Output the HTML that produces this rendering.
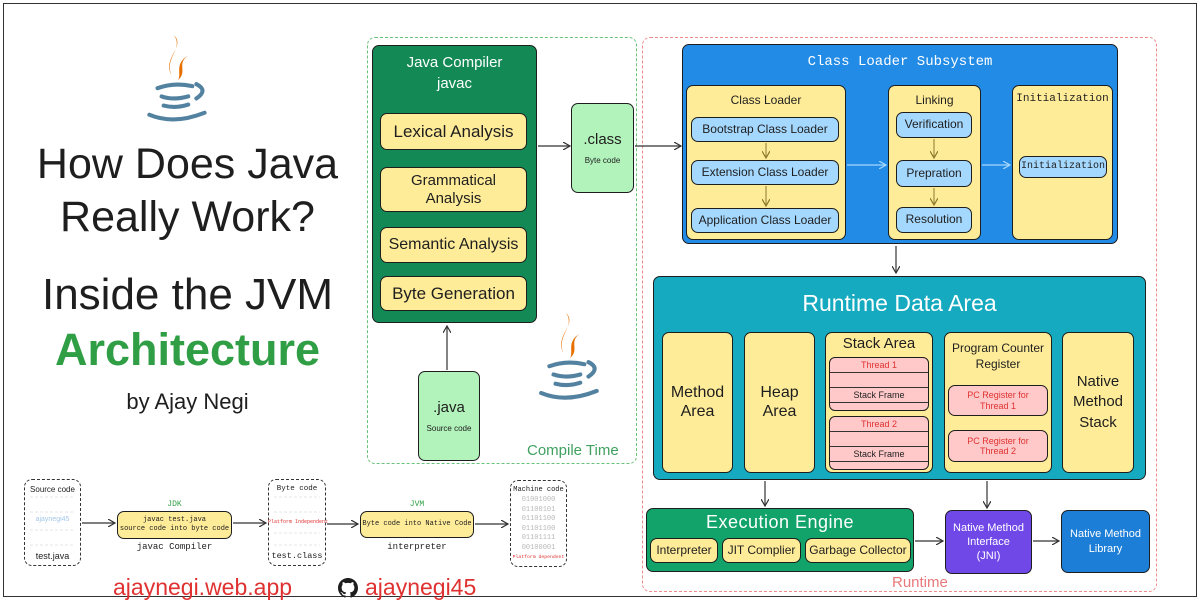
<!DOCTYPE html>
<html><head><meta charset="utf-8"><style>
*{margin:0;padding:0;box-sizing:border-box}
body{width:1200px;height:600px;background:#fff;position:relative;overflow:hidden;font-family:"Liberation Sans",sans-serif;color:#1e1e1e}
.a{position:absolute}
.b{position:absolute;border:1.5px solid #1e1e1e;border-radius:7px;display:flex;align-items:center;justify-content:center;text-align:center;line-height:1.15}
.y{background:#ffec99}
.lb{background:#a5d8ff}
.pk{background:#ffc9c9;color:#e03131}
.t{position:absolute;white-space:nowrap;text-align:center}
.mono{font-family:"Liberation Mono",monospace}
.nw{white-space:nowrap}
svg.ov{position:absolute;left:0;top:0}
</style></head><body>
<div class="a" style="left:3px;top:3px;width:1194px;height:594px;border:1.5px solid #333"></div>

<!-- logos -->
<svg class="a" style="left:143px;top:33px" width="72" height="92" viewBox="0 0 70 90">
<path d="M30 2 C42 14 18 24 28 42 C20 24 40 16 30 2Z" fill="#e76f00"/>
<path d="M44 22 C30 30 38 40 34 46 C44 38 32 30 44 22Z" fill="#e76f00"/>
<g fill="none" stroke="#5382a1" stroke-width="4" stroke-linecap="round">
<path d="M14 54 Q30 48 48 52"/><path d="M52 50 Q64 56 52 64"/>
<path d="M18 62 Q30 66 44 62"/><path d="M20 71 Q32 74 44 70"/>
<path d="M6 80 Q30 90 60 78"/></g></svg>
<svg class="a" style="left:535px;top:308px" width="72" height="98" viewBox="0 0 70 90">
<path d="M30 2 C42 14 18 24 28 42 C20 24 40 16 30 2Z" fill="#e76f00"/>
<path d="M44 22 C30 30 38 40 34 46 C44 38 32 30 44 22Z" fill="#e76f00"/>
<g fill="none" stroke="#5382a1" stroke-width="4" stroke-linecap="round">
<path d="M14 54 Q30 48 48 52"/><path d="M52 50 Q64 56 52 64"/>
<path d="M18 62 Q30 66 44 62"/><path d="M20 71 Q32 74 44 70"/>
<path d="M6 80 Q30 90 60 78"/></g></svg>

<!-- title -->
<div class="t" style="left:0;width:375px;top:140px;font-size:43px">How Does Java</div>
<div class="t" style="left:0;width:375px;top:193px;font-size:43px">Really Work?</div>
<div class="t" style="left:0;width:375px;top:270px;font-size:44px">Inside the JVM</div>
<div class="t" style="left:0;width:375px;top:324px;font-size:45px;color:#2f9e44;font-weight:bold">Architecture</div>
<div class="t" style="left:0;width:375px;top:389px;font-size:22px">by Ajay Negi</div>

<!-- dashed areas -->
<div class="a" style="left:367px;top:37px;width:270px;height:427px;border:1px dashed #69c27a;border-radius:8px"></div>
<div class="t" style="left:527px;top:442px;font-size:15px;color:#40a060">Compile Time</div>
<div class="a" style="left:642px;top:37px;width:515px;height:555px;border:1px dashed #f08a8a;border-radius:8px"></div>
<div class="t" style="left:892px;top:574px;font-size:15px;color:#e8787a">Runtime</div>

<!-- compiler -->
<div class="a" style="left:372px;top:45px;width:165px;height:278px;background:#138a55;border:1.5px solid #1e1e1e;border-radius:7px"></div>
<div class="t" style="left:372px;width:165px;top:52px;font-size:15px;color:#fff;line-height:1.4">Java Compiler<br>javac</div>
<div class="b y" style="left:380px;top:113px;width:147px;height:37px;font-size:17px">Lexical Analysis</div>
<div class="b y" style="left:380px;top:167px;width:147px;height:45px;font-size:15px">Grammatical<br>Analysis</div>
<div class="b y" style="left:380px;top:227px;width:147px;height:36px;font-size:16px">Semantic Analysis</div>
<div class="b y" style="left:380px;top:276px;width:147px;height:35px;font-size:17px">Byte Generation</div>
<div class="b" style="left:571px;top:103px;width:63px;height:90px;background:#b2f2bb;flex-direction:column;font-size:15px">.class<span style="font-size:8px;margin-top:8px">Byte code</span></div>
<div class="b" style="left:418px;top:371px;width:62px;height:90px;background:#b2f2bb;flex-direction:column;font-size:15px">.java<span style="font-size:8px;margin-top:8px">Source code</span></div>

<!-- class loader subsystem -->
<div class="a" style="left:682px;top:44px;width:436px;height:200px;background:#228be6;border:1.5px solid #1e1e1e;border-radius:7px"></div>
<div class="t mono" style="left:682px;width:436px;top:54px;font-size:14px;color:#fff">Class Loader Subsystem</div>
<div class="a y" style="left:686px;top:85px;width:160px;height:155px;border:1.5px solid #1e1e1e;border-radius:7px"></div>
<div class="t" style="left:686px;width:160px;top:93px;font-size:12px">Class Loader</div>
<div class="a y" style="left:888px;top:85px;width:93px;height:155px;border:1.5px solid #1e1e1e;border-radius:7px"></div>
<div class="t" style="left:888px;width:93px;top:93px;font-size:12px">Linking</div>
<div class="a y" style="left:1012px;top:85px;width:101px;height:155px;border:1.5px solid #1e1e1e;border-radius:7px"></div>
<div class="t mono" style="left:1012px;width:101px;top:93px;font-size:11px">Initialization</div>
<div class="b lb" style="left:691px;top:117px;width:148px;height:25px;font-size:12px">Bootstrap Class Loader</div>
<div class="b lb" style="left:691px;top:160px;width:148px;height:25px;font-size:12px">Extension Class Loader</div>
<div class="b lb" style="left:691px;top:208px;width:148px;height:25px;font-size:12px">Application Class Loader</div>
<div class="b lb" style="left:896px;top:112px;width:76px;height:26px;font-size:12px">Verification</div>
<div class="b lb" style="left:896px;top:160px;width:76px;height:27px;font-size:12px">Prepration</div>
<div class="b lb" style="left:896px;top:207px;width:76px;height:26px;font-size:12px">Resolution</div>
<div class="b lb mono" style="left:1019px;top:156px;width:88px;height:22px;font-size:10px">Initialization</div>

<!-- runtime data area -->
<div class="a" style="left:653px;top:276px;width:493px;height:204px;background:#15aabf;border:1.5px solid #1e1e1e;border-radius:7px"></div>
<div class="t" style="left:653px;width:493px;top:290px;font-size:23px;color:#fff">Runtime Data Area</div>
<div class="b y" style="left:662px;top:332px;width:71px;height:141px;font-size:16px">Method<br>Area</div>
<div class="b y" style="left:744px;top:332px;width:71px;height:141px;font-size:16px">Heap<br>Area</div>
<div class="a y" style="left:825px;top:332px;width:108px;height:141px;border:1.5px solid #1e1e1e;border-radius:7px"></div>
<div class="t" style="left:825px;width:108px;top:335px;font-size:15px">Stack Area</div>
<div class="a y" style="left:944px;top:332px;width:108px;height:141px;border:1.5px solid #1e1e1e;border-radius:7px"></div>
<div class="t" style="left:944px;width:108px;top:341px;font-size:12px;line-height:1.3">Program Counter<br>Register</div>
<div class="b y" style="left:1062px;top:332px;width:72px;height:141px;font-size:15px;line-height:1.35">Native<br>Method<br>Stack</div>
<!-- threads -->
<div class="a" style="left:829px;top:357px;width:100px;height:54px;background:#ffc9c9;border:1.5px solid #1e1e1e;border-radius:6px;overflow:hidden">
<div style="height:15px;border-bottom:1px solid #333;font-size:9px;color:#e03131;text-align:center;line-height:14px">Thread 1</div>
<div style="height:15px;border-bottom:1px solid #333"></div>
<div style="height:15px;border-bottom:1px solid #333;font-size:9px;text-align:center;line-height:14px">Stack Frame</div></div>
<div class="a" style="left:829px;top:416px;width:100px;height:54px;background:#ffc9c9;border:1.5px solid #1e1e1e;border-radius:6px;overflow:hidden">
<div style="height:15px;border-bottom:1px solid #333;font-size:9px;color:#e03131;text-align:center;line-height:14px">Thread 2</div>
<div style="height:15px;border-bottom:1px solid #333"></div>
<div style="height:15px;border-bottom:1px solid #333;font-size:9px;text-align:center;line-height:14px">Stack Frame</div></div>
<div class="b pk" style="left:948px;top:385px;width:100px;height:31px;font-size:9px">PC Register for<br>Thread 1</div>
<div class="b pk" style="left:948px;top:430px;width:100px;height:32px;font-size:9px">PC Register for<br>Thread 2</div>

<!-- execution engine -->
<div class="a" style="left:646px;top:508px;width:268px;height:64px;background:#12a36a;border:1.5px solid #1e1e1e;border-radius:7px"></div>
<div class="t" style="left:646px;width:268px;top:512px;font-size:18px;color:#fff;letter-spacing:0.5px">Execution Engine</div>
<div class="b y" style="left:650px;top:538px;width:68px;height:25px;font-size:12px">Interpreter</div>
<div class="b y" style="left:722px;top:538px;width:79px;height:25px;font-size:12px">JIT Complier</div>
<div class="b y" style="left:805px;top:538px;width:106px;height:25px;font-size:12px">Garbage Collector</div>
<div class="b" style="left:945px;top:510px;width:87px;height:64px;background:#7048e8;color:#fff;font-size:11px;line-height:1.3">Native Method<br>Interface<br>(JNI)</div>
<div class="b" style="left:1061px;top:510px;width:89px;height:63px;background:#1c7ed6;color:#fff;font-size:11px;line-height:1.3">Native Method<br>Library</div>

<!-- bottom flow -->
<div class="a" style="left:24px;top:479px;width:57px;height:87px;border:1.5px dashed #333;border-radius:8px"></div>
<div class="t" style="left:24px;width:57px;top:485px;font-size:8px">Source code</div>
<div class="t" style="left:24px;width:57px;top:516px;font-size:7px;color:#a5c8ea">ajaynegi45</div>
<div class="t" style="left:24px;width:57px;top:551px;font-size:9px">test.java</div>
<div class="t mono" style="left:117px;width:115px;top:500px;font-size:8px;color:#2f9e44">JDK</div>
<div class="b y mono nw" style="left:117px;top:511px;width:115px;height:28px;font-size:7px;line-height:1.35">javac test.java<br>source code into byte code</div>
<div class="t mono" style="left:117px;width:115px;top:542px;font-size:9px">javac Compiler</div>
<div class="a" style="left:268px;top:479px;width:58px;height:87px;border:1.5px dashed #333;border-radius:8px"></div>
<div class="t mono" style="left:268px;width:58px;top:485px;font-size:7.5px">Byte code</div>
<div class="t mono" style="left:268px;width:58px;top:519px;font-size:5px;color:#e03131">Platform Independent</div>
<div class="t mono" style="left:268px;width:58px;top:551px;font-size:8.5px">test.class</div>
<div class="t mono" style="left:360px;width:114px;top:500px;font-size:8px;color:#2f9e44">JVM</div>
<div class="b y mono nw" style="left:360px;top:511px;width:114px;height:27px;font-size:7px">Byte code into Native Code</div>
<div class="t mono" style="left:360px;width:114px;top:542px;font-size:9px">interpreter</div>
<div class="a" style="left:510px;top:480px;width:57px;height:87px;border:1.5px dashed #333;border-radius:8px"></div>
<div class="t mono" style="left:510px;width:57px;top:486px;font-size:7px">Machine code</div>
<div class="t mono" style="left:510px;width:57px;top:496px;font-size:7px;color:#b8b8b8;line-height:9.5px">01001000<br>01100101<br>01101100<br>01101100<br>01101111<br>00100001</div>
<div class="t mono" style="left:510px;width:57px;top:555px;font-size:4.8px;color:#e03131">Platform dependent</div>

<div class="t" style="left:113px;top:574px;font-size:23px;color:#e03131">ajaynegi.web.app</div>
<svg class="a" style="left:338px;top:578px" width="20" height="20" viewBox="0 0 16 16"><path fill="#1e1e1e" d="M8 0C3.58 0 0 3.58 0 8c0 3.54 2.290 6.53 5.47 7.590.4.07.55-.17.55-.38v-1.33c-2.23.48-2.7-1.07-2.7-1.07-.36-.92-.89-1.170-.89-1.17-.73-.5.06-.49.06-.49.8.06 1.23.83 1.23.83.72 1.23 1.87.87 2.33.67.07-.52.28-.87.51-1.07-1.78-.2-3.65-.89-3.65-3.95 0-.87.31-1.59.82-2.15-.08-.2-.36-1.02.08-2.12 0 0 .67-.21 2.2.82a7.6 7.6 0 014 0c1.53-1.04 2.2-.82 2.2-.82.44 1.1.16 1.92.08 2.12.51.56.82 1.27.82 2.15 0 3.07-1.87 3.75-3.65 3.95.29.25.54.73.54 1.48v2.2c0 .21.15.46.55.38A8 8 0 0016 8c0-4.42-3.58-8-8-8z"/></svg>
<div class="t" style="left:365px;top:574px;font-size:23px;color:#e03131">ajaynegi45</div>

<!-- connectors -->
<svg class="ov" width="1200" height="600">
<defs><marker id="m" markerWidth="8" markerHeight="8" refX="7" refY="4" orient="auto" markerUnits="userSpaceOnUse"><path d="M0 0L7 4L0 8" fill="none" stroke="#333" stroke-width="1.2"/></marker>
<marker id="mw" markerWidth="8" markerHeight="8" refX="7" refY="4" orient="auto" markerUnits="userSpaceOnUse"><path d="M0 0L7 4L0 8" fill="none" stroke="#a5d8ff" stroke-width="1.2"/></marker>
<marker id="mo" markerWidth="8" markerHeight="8" refX="7" refY="4" orient="auto" markerUnits="userSpaceOnUse"><path d="M0 0L7 4L0 8" fill="none" stroke="#8a7a2a" stroke-width="1.2"/></marker></defs>
<g stroke="#333" stroke-width="1.2" fill="none">
<path d="M447 370V326" marker-end="url(#m)"/>
<path d="M538 146H570" marker-end="url(#m)"/>
<path d="M635 146H681" marker-end="url(#m)"/>
<path d="M896 246V273" marker-end="url(#m)"/>
<path d="M765 481V506" marker-end="url(#m)"/>
<path d="M987 481V508" marker-end="url(#m)"/>
<path d="M915 541H943" marker-end="url(#m)"/>
<path d="M1033 541H1059" marker-end="url(#m)"/>
<path d="M82 523H115" marker-end="url(#m)"/>
<path d="M233 523H266" marker-end="url(#m)"/>
<path d="M327 524H358" marker-end="url(#m)"/>
<path d="M475 524H508" marker-end="url(#m)"/>
</g>
<g stroke="#a5d8ff" stroke-width="1.2"><path d="M847 165H886" marker-end="url(#mw)"/><path d="M982 165H1010" marker-end="url(#mw)"/></g>
<g stroke="#8a7a2a" stroke-width="1"><path d="M766 143V158" marker-end="url(#mo)"/><path d="M766 186V206" marker-end="url(#mo)"/><path d="M934 139V158" marker-end="url(#mo)"/><path d="M934 188V205" marker-end="url(#mo)"/></g>
<g stroke="#ccc" stroke-width="0.6" stroke-dasharray="3 2"><path d="M30 497H75M30 512H75M30 530H75M30 545H75M274 497H320M274 512H320M274 533H320M274 545H320"/></g>
</svg>
</body></html>
